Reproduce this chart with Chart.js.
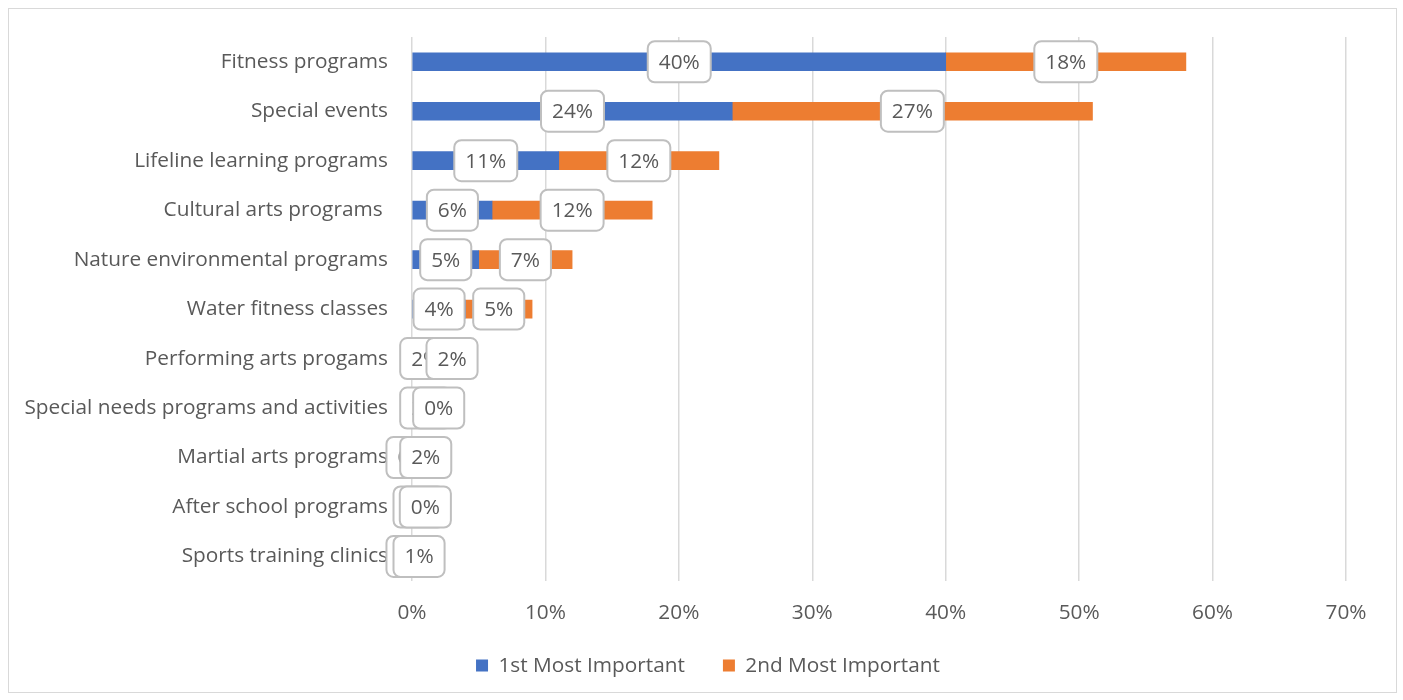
<!DOCTYPE html>
<html>
<head>
<meta charset="utf-8">
<script src="https://cdn.jsdelivr.net/npm/chart.js@4.4.1/dist/chart.umd.min.js"></script>
<style>
  html, body { margin: 0; padding: 0; background: #fff; }
  #wrap { position: relative; width: 1403px; height: 700px; }
</style>
</head>
<body>
<div id="wrap"><canvas id="myChart" width="1403" height="700"></canvas></div>
<script>
const categories = [
  'Fitness programs',
  'Special events',
  'Lifeline learning programs',
  'Cultural arts programs ',
  'Nature environmental programs',
  'Water fitness classes',
  'Performing arts progams',
  'Special needs programs and activities',
  'Martial arts programs',
  'After school programs',
  'Sports training clinics'
];
const firstImportant = [40, 24, 11, 6, 5, 4, 2, 2, 0, 1, 0];
const secondImportant = [18, 27, 12, 12, 7, 5, 2, 0, 2, 0, 1];
const xTicks = [0, 10, 20, 30, 40, 50, 60, 70];

const FONT = 'Open Sans';
const FONT_SIZE = 20.8;
const TEXT = '#595959';

// white background + thin grey frame around the whole chart
var framePlugin = {
  id: 'frame',
  beforeDraw: function(chart) {
    var c = chart.ctx;
    c.save();
    c.fillStyle = '#ffffff';
    c.fillRect(0, 0, chart.width, chart.height);
    c.strokeStyle = '#d9d9d9';
    c.lineWidth = 1;
    c.strokeRect(8.5, 8.5, 1388, 684);
    c.restore();
  }
};

// nudge the legend: a bit right of centre and up from the bottom edge
var legendShiftPlugin = {
  id: 'legendShift',
  afterLayout: function(chart) {
    if (chart.legend) {
      chart.legend.left += 35;
      chart.legend.right += 35;
      chart.legend.top -= 14;
      chart.legend.bottom -= 14;
    }
  }
};

// value callouts: rounded white boxes centred on each bar segment
var calloutPlugin = {
  id: 'callouts',
  afterDatasetsDraw: function(chart) {
    var c = chart.ctx;
    c.save();
    c.font = FONT_SIZE + 'px "' + FONT + '"';
    c.textAlign = 'center';
    c.textBaseline = 'middle';
    chart.data.datasets.forEach(function(ds, di) {
      var meta = chart.getDatasetMeta(di);
      meta.data.forEach(function(bar, i) {
        var label = ds.data[i] + '%';
        var cx = (bar.x + bar.base) / 2;
        var cy = bar.y;
        var w = c.measureText(label).width + 22;
        var h = 41;
        c.beginPath();
        c.roundRect(cx - w / 2, cy - h / 2, w, h, 7);
        c.fillStyle = '#ffffff';
        c.fill();
        c.lineWidth = 2;
        c.strokeStyle = '#bfbfbf';
        c.stroke();
        c.fillStyle = TEXT;
        c.fillText(label, cx, cy + 1);
      });
    });
    c.restore();
  }
};

var ctx = document.getElementById('myChart').getContext('2d');

var myChart = new Chart(ctx, {
  type: 'bar',
  data: {
    labels: categories,
    datasets: [{
      label: '1st Most Important',
      data: firstImportant,
      backgroundColor: '#4472c4',
      barThickness: 18
    }, {
      label: '2nd Most Important',
      data: secondImportant,
      backgroundColor: '#ed7d31',
      barThickness: 18
    }]
  },
  options: {
    indexAxis: 'y',
    responsive: false,
    animation: false,
    layout: { padding: { top: 37, right: 57, bottom: 0, left: 0 } },
    scales: {
      x: {
        stacked: true,
        min: 0,
        max: 70,
        afterBuildTicks: function(scale) {
          scale.ticks = xTicks.map(function(v) { return { value: v }; });
        },
        afterFit: function(scale) { scale.height = 50; },
        grid: { color: '#d9d9d9', lineWidth: 1.5, drawTicks: false },
        border: { display: false },
        ticks: {
          padding: 19,
          color: TEXT,
          font: { family: FONT, size: FONT_SIZE },
          callback: function(v) { return v + '%'; }
        }
      },
      y: {
        stacked: true,
        afterFit: function(scale) { scale.width = 412; },
        grid: { display: false, drawTicks: false },
        border: { display: false },
        ticks: {
          padding: 24,
          color: TEXT,
          font: { family: FONT, size: FONT_SIZE }
        }
      }
    },
    plugins: {
      legend: {
        position: 'bottom',
        labels: {
          boxWidth: 12,
          boxHeight: 12,
          padding: 38,
          color: TEXT,
          font: { family: FONT, size: FONT_SIZE }
        }
      },
      tooltip: { enabled: false }
    }
  },
  plugins: [framePlugin, legendShiftPlugin, calloutPlugin]
});
</script>
</body>
</html>
